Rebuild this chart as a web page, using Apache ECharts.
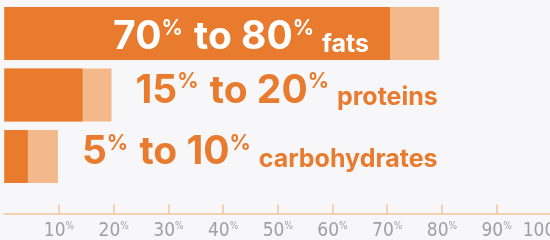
<!DOCTYPE html>
<html>
<head>
<meta charset="utf-8">
<script src="https://cdn.jsdelivr.net/npm/echarts@6/dist/echarts.min.js"></script>
<style>
html,body{margin:0;padding:0;background:#F7F7F9;}
#c{width:550px;height:240px;}
</style>
</head>
<body>
<div id="c"></div>
<script>
// ---- data ----
var categories = ['fats', 'proteins', 'carbohydrates'];
var lowValues = [70.5, 14.3, 4.3];     // dark bar (lower bound)
var highValues = [79.5, 19.6, 9.8];    // light bar (upper bound)
var lowLabels = ['70', '15', '5'];
var highLabels = ['80', '20', '10'];
var tickValues = [10, 20, 30, 40, 50, 60, 70, 80, 90];
var tickLabels = [10, 20, 30, 40, 50, 60, 70, 80, 90, 100];

var DARK = '#E87B2E', LIGHT = '#F3B98A', AXIS = '#F5C49C';

function labelText(i) {
  return '{n|' + lowLabels[i] + '}{p|%}{n| to ' + highLabels[i] + '}{p|%}{s| ' + categories[i] + '}';
}
function rich(color) {
  return {
    n: {fontFamily: 'Inter', fontWeight: 'bold', fontSize: 39, lineHeight: 39, color: color},
    p: {fontFamily: 'Inter', fontWeight: 'bold', fontSize: 21, lineHeight: 22, verticalAlign: 'top', color: color, padding: [0, 2, 0, 0]},
    s: {fontFamily: 'Inter', fontWeight: 'bold', fontSize: 25, lineHeight: 35, verticalAlign: 'bottom', color: color}
  };
}

var lightData = highValues.map(function (v, i) {
  var d = {value: v};
  if (i > 0) {
    d.label = {show: true, position: 'right', distance: 24, offset: [0, -4],
      formatter: labelText(i), rich: rich(DARK)};
  }
  return d;
});
var darkData = lowValues.map(function (v, i) {
  var d = {value: v};
  if (i === 0) {
    d.label = {show: true, position: 'insideRight', distance: 21, offset: [0, 4],
      formatter: labelText(i), rich: rich('#FFFFFF')};
  }
  return d;
});

var LF = 'Liberation Sans Narrow, DejaVu Sans Condensed';
var chart = echarts.init(document.getElementById('c'), null, {renderer: 'canvas'});
chart.setOption({
  backgroundColor: '#F7F7F9',
  animation: false,
  grid: {left: 4.3, width: 547, top: 2.7, height: 184.5, containLabel: false, outerBoundsMode: 'none'},
  xAxis: {
    type: 'value', min: 0, max: 100, offset: 27,
    splitLine: {show: false},
    axisLine: {show: true, lineStyle: {color: AXIS, width: 1.7}},
    axisTick: {show: true, inside: true, length: 10, customValues: tickValues,
      lineStyle: {color: AXIS, width: 1.5}},
    axisLabel: {
      customValues: tickLabels, margin: 7,
      showMaxLabel: true, showMinLabel: true, hideOverlap: false,
      formatter: function (v) {
        return v === 100 ? '{n|' + v + '}{q|%}' : '{n|' + v + '}{p|%}';
      },
      rich: {
        n: {fontFamily: LF, fontSize: 19, color: '#A0A0A0', lineHeight: 19},
        p: {fontFamily: LF, fontSize: 10, color: '#A0A0A0', verticalAlign: 'top', lineHeight: 13},
        q: {fontFamily: LF, fontSize: 10, color: '#A0A0A0', verticalAlign: 'top', lineHeight: 13, padding: [0, 16, 0, 0]}
      }
    }
  },
  yAxis: {
    type: 'category', data: categories, inverse: true, show: false
  },
  series: [
    {type: 'bar', name: 'high', data: lightData, barWidth: 53, itemStyle: {color: LIGHT}, z: 1},
    {type: 'bar', name: 'low', data: darkData, barWidth: 53, barGap: '-100%', itemStyle: {color: DARK}, z: 2}
  ]
});
</script>
</body>
</html>
